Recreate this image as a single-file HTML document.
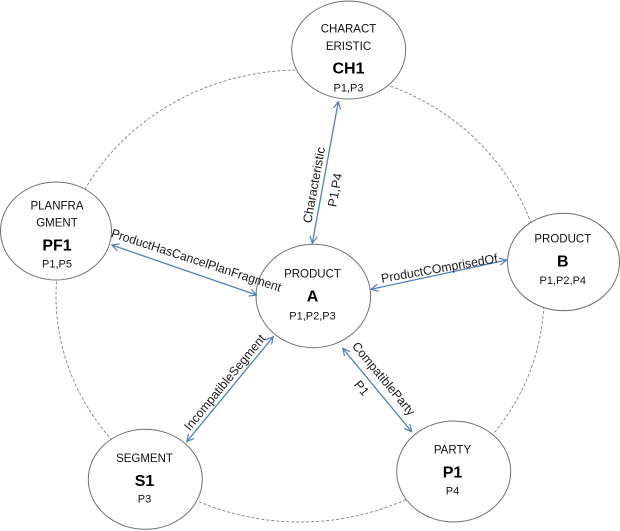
<!DOCTYPE html>
<html>
<head>
<meta charset="utf-8">
<style>
  html, body { margin:0; padding:0; background:#fff; }
  svg { display:block; }
  .node { fill:#fff; stroke:#707070; stroke-width:1; }
  .t { font-family:"Liberation Sans", sans-serif; font-size:11.5px; fill:#111; text-anchor:middle; }
  .s { font-family:"Liberation Sans", sans-serif; font-size:11px; fill:#111; text-anchor:middle; }
  .b { font-family:"Liberation Sans", sans-serif; font-size:16px; font-weight:bold; fill:#000; text-anchor:middle; }
  .lbl { font-family:"Liberation Sans", sans-serif; font-size:12.5px; fill:#1a1a1a; text-anchor:middle; }
  .ar { stroke:#4f81bd; stroke-width:1.3; fill:none; }
</style>
</head>
<body>
<svg width="620" height="531" viewBox="0 0 620 531" xmlns="http://www.w3.org/2000/svg">
  <defs>
    <marker id="ah" viewBox="0 0 10 10" refX="9" refY="5" markerWidth="9" markerHeight="9" markerUnits="userSpaceOnUse" orient="auto-start-reverse">
      <path d="M1,1 L9,5 L1,9" fill="none" stroke="#4f81bd" stroke-width="1.3"/>
    </marker>
  </defs>

  <!-- big dashed orbit -->
  <ellipse cx="300" cy="296" rx="244" ry="226" fill="none" stroke="#808080" stroke-width="0.9" stroke-dasharray="3,2"/>

  <!-- nodes -->
  <ellipse class="node" cx="348.7" cy="50" rx="57" ry="49"/>
  <ellipse class="node" cx="56" cy="231" rx="55.5" ry="49"/>
  <ellipse class="node" cx="313.3" cy="296" rx="57.3" ry="51.7"/>
  <ellipse class="node" cx="563.5" cy="262" rx="56" ry="48.7"/>
  <ellipse class="node" cx="145.3" cy="479.3" rx="57" ry="50"/>
  <ellipse class="node" cx="453.7" cy="471.5" rx="57" ry="50.5"/>

  <!-- node texts -->
  <text class="t" x="348.5" y="32.3">CHARACT</text>
  <text class="t" x="348.5" y="50">ERISTIC</text>
  <text class="b" x="348.5" y="73.3">CH1</text>
  <text class="s" x="348.5" y="91.7">P1,P3</text>

  <text class="t" x="57" y="209.3">PLANFRA</text>
  <text class="t" x="57" y="226.7">GMENT</text>
  <text class="b" x="57" y="250.7">PF1</text>
  <text class="s" x="57" y="267.3">P1,P5</text>

  <text class="t" x="312.5" y="277.3">PRODUCT</text>
  <text class="b" x="312.5" y="301.7">A</text>
  <text class="s" x="312.5" y="319.3">P1,P2,P3</text>

  <text class="t" x="562.8" y="242.7">PRODUCT</text>
  <text class="b" x="562.8" y="266.7">B</text>
  <text class="s" x="562.8" y="284">P1,P2,P4</text>

  <text class="t" x="144.5" y="462">SEGMENT</text>
  <text class="b" x="144.5" y="486">S1</text>
  <text class="s" x="144.5" y="502.7">P3</text>

  <text class="t" x="452.5" y="453.7">PARTY</text>
  <text class="b" x="452.5" y="477.7">P1</text>
  <text class="s" x="452.5" y="494.3">P4</text>

  <!-- connectors -->
  <line class="ar" x1="338.3" y1="101.7" x2="312.3" y2="243.3" marker-start="url(#ah)" marker-end="url(#ah)"/>
  <line class="ar" x1="111.7" y1="245" x2="256.7" y2="295" marker-start="url(#ah)" marker-end="url(#ah)"/>
  <line class="ar" x1="371" y1="289.3" x2="506.7" y2="260" marker-start="url(#ah)" marker-end="url(#ah)"/>
  <line class="ar" x1="273.3" y1="336.7" x2="186.7" y2="441.7" marker-start="url(#ah)" marker-end="url(#ah)"/>
  <line class="ar" x1="342.7" y1="348.3" x2="411.7" y2="431.7" marker-start="url(#ah)" marker-end="url(#ah)"/>

  <!-- connector labels -->
  <g transform="translate(322.7,186.6) rotate(-79.6)">
    <text class="lbl" x="0" y="-4.6" textLength="77" lengthAdjust="spacingAndGlyphs">Characteristic</text>
    <text class="lbl" x="-1.1" y="17" font-size="11.5">P1,P4</text>
  </g>
  <g transform="translate(195,264.2) rotate(18)">
    <text class="lbl" x="0" y="0" textLength="178" lengthAdjust="spacingAndGlyphs">ProductHasCancelPlanFragment</text>
  </g>
  <g transform="translate(440,272.5) rotate(-10)">
    <text class="lbl" x="0" y="0" textLength="118" lengthAdjust="spacingAndGlyphs">ProductCOmprisedOf</text>
  </g>
  <g transform="translate(231.3,387.7) rotate(-50.5)">
    <text class="lbl" x="0" y="-4.2" textLength="120" lengthAdjust="spacingAndGlyphs">IncompatibleSegment</text>
  </g>
  <g transform="translate(374.3,386.5) rotate(50.4)">
    <text class="lbl" x="0" y="-8" textLength="91" lengthAdjust="spacingAndGlyphs">CompatibleParty</text>
    <text class="lbl" x="-6.8" y="15" font-size="11.5">P1</text>
  </g>
</svg>
</body>
</html>
